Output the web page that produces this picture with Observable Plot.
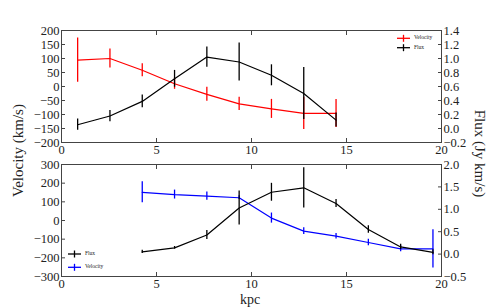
<!DOCTYPE html>
<html>
<head>
<meta charset="utf-8">
<script src="https://cdn.jsdelivr.net/npm/d3@7"></script>
<script src="https://cdn.jsdelivr.net/npm/@observablehq/plot@0.6"></script>
<style>
  body { margin: 0; background: #fff; }
  #fig { position: relative; width: 491px; height: 307px; font-family: "Liberation Serif", serif; color: #222; }
  .panel { position: absolute; left: 0; }
  .ylab { position: absolute; font-size: 15px; line-height: 1; white-space: nowrap; transform-origin: center center; }
  .leg { position: absolute; font-size: 5.5px; line-height: 1; white-space: nowrap; }
  .leg svg { position: absolute; overflow: visible; }
</style>
</head>
<body>
<div id="fig"></div>
<script>
// ---- data ----
const xTop = [0.85, 2.55, 4.25, 5.95, 7.65, 9.35, 11.05, 12.75, 14.45];
const velTop = [94, 100, 58, 10, -28, -62, -80, -96, -96];
const velTopErr = [79, 34, 23, 20, 25, 24, 34, 58, 50];
const fluxTop = [0.054, 0.178, 0.387, 0.71, 1.02, 0.95, 0.76, 0.5, 0.12];
const fluxTopErr = [0.08, 0.08, 0.09, 0.12, 0.145, 0.27, 0.15, 0.37, 0.1];

const xBot = [4.25, 5.95, 7.65, 9.35, 11.05, 12.75, 14.45, 16.15, 17.85, 19.55];
const velBot = [151, 139, 131, 122, 13, -57, -84, -118, -152, -152];
const velBotErr = [56, 24, 22, 10, 27, 18, 15, 17, 16, 103];
const fluxBot = [0.05, 0.14, 0.425, 1.03, 1.38, 1.48, 1.13, 0.55, 0.16, 0.04];
const fluxBotErr = [0.035, 0.03, 0.1, 0.38, 0.2, 0.45, 0.09, 0.085, 0.06, 0.055];

const xTicks = [0, 5, 10, 15, 20];
const velTicksTop = [-200, -150, -100, -50, 0, 50, 100, 150, 200];
const fluxTicksTop = [-0.2, 0, 0.2, 0.4, 0.6, 0.8, 1.0, 1.2, 1.4];
const velTicksBot = [-300, -200, -100, 0, 100, 200, 300];
const fluxTicksBot = [-0.5, 0, 0.5, 1.0, 1.5, 2.0];

const xLabel = "kpc";
const yLabelLeft = "Velocity (km/s)";
const yLabelRight = "Flux (Jy km/s)";

// ---- helpers ----
const fig = document.getElementById("fig");
const fmt1 = d3.format(".1f");
const fmtInt = d3.format("d");
const textColor = "#222";
const spine = "#444";

function panel({xs, vel, velErr, flux, fluxErr, velDomain, fluxDomain, velTicks, fluxTicks, velColor, top, height, marginTop, marginBottom}) {
  // secondary (flux) axis mapped linearly onto the primary velocity domain
  const toV = f => velDomain[0] + (f - fluxDomain[0]) * (velDomain[1] - velDomain[0]) / (fluxDomain[1] - fluxDomain[0]);
  const toF = v => fluxDomain[0] + (v - velDomain[0]) * (fluxDomain[1] - fluxDomain[0]) / (velDomain[1] - velDomain[0]);
  const vData = xs.map((x, i) => ({x, v: vel[i], lo: vel[i] - velErr[i], hi: vel[i] + velErr[i]}));
  const fData = xs.map((x, i) => ({x, v: toV(flux[i]), lo: toV(flux[i] - fluxErr[i]), hi: toV(flux[i] + fluxErr[i])}));
  const fTickPos = fluxTicks.map(toV);
  const p = Plot.plot({
    width: 491, height,
    marginLeft: 61, marginRight: 50, marginTop, marginBottom,
    style: {fontFamily: "'Liberation Serif', serif", fontSize: "12.5px", color: textColor, background: "transparent", overflow: "visible"},
    x: {domain: [0, 20]},
    y: {domain: velDomain},
    marks: [
      Plot.frame({stroke: spine, strokeWidth: 1}),
      // labels
      Plot.axisX(xTicks, {anchor: "bottom", tickSize: 0, tickPadding: 3, tickFormat: fmtInt, label: null}),
      Plot.axisY(velTicks, {anchor: "left", tickSize: 0, tickPadding: 2, tickFormat: fmtInt, label: null}),
      Plot.axisY(fTickPos, {anchor: "right", tickSize: 0, tickPadding: 2, tickFormat: v => fmt1(toF(v)), label: null}),
      // inward ticks
      Plot.axisX(xTicks, {anchor: "bottom", tickSize: -4, fill: "none", stroke: spine, label: null}),
      Plot.axisX(xTicks, {anchor: "top", tickSize: -4, fill: "none", stroke: spine, label: null}),
      Plot.axisY(velTicks, {anchor: "left", tickSize: -4, fill: "none", stroke: spine, label: null}),
      Plot.axisY(fTickPos, {anchor: "right", tickSize: -4, fill: "none", stroke: spine, label: null}),
      // series
      Plot.line(vData, {x: "x", y: "v", stroke: velColor, strokeWidth: 1.2}),
      Plot.ruleX(vData, {x: "x", y1: "lo", y2: "hi", stroke: velColor, strokeWidth: 1.3}),
      Plot.line(fData, {x: "x", y: "v", stroke: "#000", strokeWidth: 1.2}),
      Plot.ruleX(fData, {x: "x", y1: "lo", y2: "hi", stroke: "#000", strokeWidth: 1.3})
    ]
  });
  p.classList.add("panel");
  p.style.top = top + "px";
  fig.appendChild(p);
}

panel({xs: xTop, vel: velTop, velErr: velTopErr, flux: fluxTop, fluxErr: fluxTopErr,
  velDomain: [-200, 200], fluxDomain: [-0.2, 1.4], velTicks: velTicksTop, fluxTicks: fluxTicksTop,
  velColor: "#ff0000", top: 0, height: 160, marginTop: 30, marginBottom: 18});

panel({xs: xBot, vel: velBot, velErr: velBotErr, flux: fluxBot, fluxErr: fluxBotErr,
  velDomain: [-300, 300], fluxDomain: [-0.5, 2.0], velTicks: velTicksBot, fluxTicks: fluxTicksBot,
  velColor: "#0000ff", top: 160, height: 147, marginTop: 4, marginBottom: 31});

// axis titles
function label(text, cx, cy, rot, size) {
  const d = document.createElement("div");
  d.className = "ylab";
  d.textContent = text;
  d.style.fontSize = size + "px";
  fig.appendChild(d);
  const w = d.offsetWidth, h = d.offsetHeight;
  d.style.left = (cx - w / 2) + "px";
  d.style.top = (cy - h / 2) + "px";
  if (rot) d.style.transform = `rotate(${rot}deg)`;
}
label(yLabelLeft, 18, 150, -90, 15);
label(yLabelRight, 480, 153, 90, 15);
label(xLabel, 250, 299.5, 0, 14);

// legends
function legend(items, x0, ys) {
  items.forEach(([name, color], i) => {
    const y = ys[i];
    const s = document.createElementNS("http://www.w3.org/2000/svg", "svg");
    s.setAttribute("width", 1); s.setAttribute("height", 1);
    s.style.left = "0px"; s.style.top = "0px";
    s.innerHTML = `<line x1="${x0}" x2="${x0 + 13}" y1="${y}" y2="${y}" stroke="${color}" stroke-width="1.3"/>` +
      `<line x1="${x0 + 6.5}" x2="${x0 + 6.5}" y1="${y - 3.5}" y2="${y + 3.5}" stroke="${color}" stroke-width="1.3"/>`;
    const wrap = document.createElement("div");
    wrap.className = "leg";
    wrap.style.left = "0px"; wrap.style.top = "0px";
    wrap.appendChild(s);
    fig.appendChild(wrap);
    const t = document.createElement("div");
    t.className = "leg";
    t.textContent = name;
    fig.appendChild(t);
    t.style.left = (x0 + 17) + "px";
    t.style.top = (y - t.offsetHeight / 2) + "px";
  });
}
legend([["Velocity", "#ff0000"], ["Flux", "#000"]], 397, [38.3, 47.7]);
legend([["Flux", "#000"], ["Velocity", "#0000ff"]], 68, [254, 267.3]);
</script>
</body>
</html>
